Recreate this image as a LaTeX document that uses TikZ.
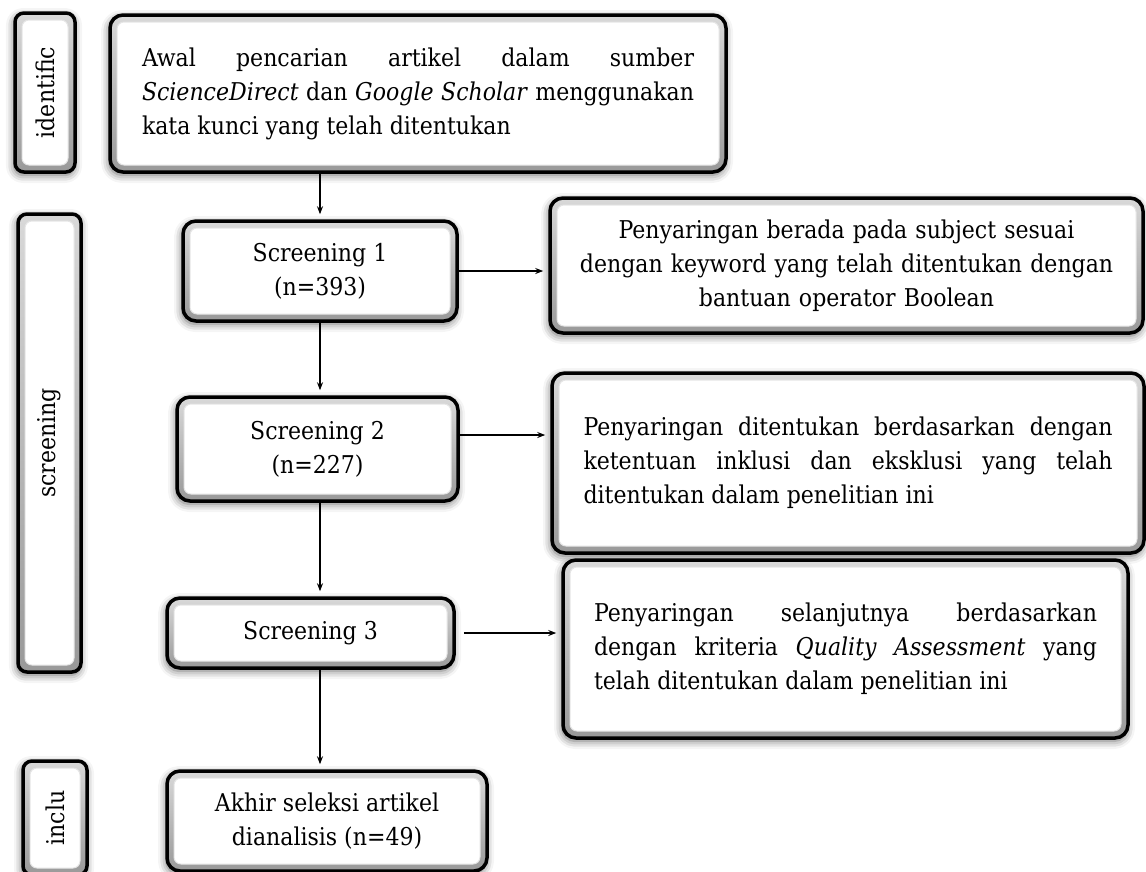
\documentclass[tikz,border=0pt]{standalone}
\usepackage{fontspec}
\setmainfont{DejaVu Serif Condensed}[ItalicFont={DejaVu Serif Condensed Italic}]
\usepackage{graphicx}
\usetikzlibrary{positioning}
\usetikzlibrary{calc, shadows.blur}
\usetikzlibrary{arrows.meta}
\newcommand{\boxfont}{\fontsize{24.5}{34}\selectfont}

\begin{document}
\begin{tikzpicture}[x=1pt, y=-1pt,
		bevel box/.style={draw=black, line width=3.5pt, rounded corners=13pt,
			top color=gray!30, bottom color=gray!80,
			blur shadow={shadow xshift=-1pt, shadow yshift=-3pt, shadow blur radius=8pt, shadow opacity=60},
			path picture={\fill[white, draw=gray!20, line width=1pt, rounded corners=7pt]
				([shift={(7pt,-7pt)}]path picture bounding box.north west) rectangle
				([shift={(-7pt,7pt)}]path picture bounding box.south east);},
			inner sep=0pt, font=\boxfont},
		side box/.style={bevel box, rounded corners=9pt},
		arr/.style={-{Stealth[length=8pt, width=6pt]}, line width=1.5pt, shorten >=5pt}
		]
		\useasboundingbox (0,0) rectangle (1146,871);

		% stage labels
		\node[side box, minimum width=60pt, minimum height=159pt] (idf) at (45,92.5) {\rotatebox{90}{identific}};
		\node[side box, minimum width=63pt, minimum height=458pt] (scr) at (49.5,443) {\rotatebox{90}{screening}};
		\node[side box, minimum width=64pt, minimum height=114pt] (inc) at (55,818) {\rotatebox{90}{inclu}};

		% main column
		\node[bevel box, minimum width=616pt, minimum height=157pt, text width=552pt, align=justify] (srch) at (418,93.5)
			{Awal pencarian artikel dalam sumber\linebreak \textit{ScienceDirect} dan \textit{Google Scholar} menggunakan\linebreak kata kunci yang telah ditentukan\par\vspace*{9pt}};
		\node[bevel box, minimum width=274pt, minimum height=100pt, align=center] (s1) at (320,271) {Screening 1\\(n=393)};
		\node[bevel box, minimum width=281pt, minimum height=104pt, align=center] (s2) at (317.5,449) {Screening 2\\(n=227)};
		\node[bevel box, minimum width=287pt, minimum height=70pt] (s3) at (310.5,633) {Screening 3};
		\node[bevel box, minimum width=320pt, minimum height=100pt, align=center] (akhir) at (327,821) {Akhir seleksi artikel\\dianalisis (n=49)};

		% notes on the right
		\node[bevel box, minimum width=593pt, minimum height=135pt, text width=560pt, align=center] (p1) at (846.5,265.5)
			{Penyaringan berada pada subject sesuai\\dengan keyword yang telah ditentukan dengan\\bantuan operator Boolean};
		\node[bevel box, minimum width=592pt, minimum height=180pt, text width=529pt, align=justify] (p2) at (848,463)
			{Penyaringan ditentukan berdasarkan dengan\linebreak ketentuan inklusi dan eksklusi yang telah\linebreak ditentukan dalam penelitian ini\par\vspace*{22pt}};
		\node[bevel box, minimum width=565pt, minimum height=178pt, text width=503pt, align=justify] (p3) at (845.5,649)
			{Penyaringan selanjutnya berdasarkan\linebreak dengan kriteria \textit{Quality Assessment} yang\linebreak telah ditentukan dalam penelitian ini\par\vspace*{12pt}};

		\draw[arr] (s1.north |- srch.south) -- (s1.north);
		\draw[arr] (s1.south) -- (s1.south |- s2.north);
		\draw[arr] (s2.south -| s1.south) -- (s3.north -| s1.south);
		\draw[arr] (s3.south -| s1.south) -- (akhir.north -| s1.south);
		\draw[arr] (s1.east) -- (s1.east -| p1.west);
		\draw[arr] ([yshift=14pt]s2.east) -- ([yshift=14pt]s2.east -| p2.west);
		\draw[arr, shorten <=8pt] (s3.east) -- (s3.east -| p3.west);
	\end{tikzpicture}
\end{document}
